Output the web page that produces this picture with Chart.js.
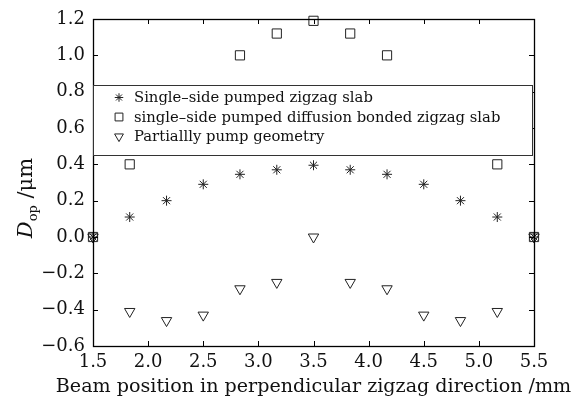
<!DOCTYPE html>
<html>
<head>
<meta charset="utf-8">
<script src="https://cdn.jsdelivr.net/npm/chart.js@4/dist/chart.umd.min.js"></script>
<style>
  html, body { margin: 0; padding: 0; background: #fff; }
  #wrap { width: 580px; height: 397px; }
</style>
</head>
<body>
<div id="wrap"><canvas id="opdChart"></canvas></div>
<script>
const positions = [1.5, 1.833, 2.167, 2.5, 2.833, 3.167, 3.5, 3.833, 4.167, 4.5, 4.833, 5.167, 5.5];
const singleSide = [0, 0.11, 0.20, 0.29, 0.345, 0.37, 0.395, 0.37, 0.345, 0.29, 0.20, 0.11, 0];
// the four middle-side squares sit behind the legend box in the original, so they are left out
const diffusionBonded = [0, 0.40, null, null, 1.0, 1.12, 1.19, 1.12, 1.0, null, null, 0.40, 0];
const partialPump = [0, -0.41, -0.46, -0.43, -0.285, -0.25, 0, -0.25, -0.285, -0.43, -0.46, -0.41, 0];
const seriesNames = [
  "Single\u2013side pumped zigzag slab",
  "single\u2013side pumped diffusion bonded zigzag slab",
  "Partiallly pump geometry"
];
const xTitle = "Beam position in perpendicular zigzag direction /mm";
const xTicks = [1.5, 2.0, 2.5, 3.0, 3.5, 4.0, 4.5, 5.0, 5.5];
const yTicks = [-0.6, -0.4, -0.2, 0.0, 0.2, 0.4, 0.6, 0.8, 1.0, 1.2];

const SERIF = "'DejaVu Serif', 'Liberation Serif', serif";

function toPoints(vals) {
  return positions.map((x, i) => ({ x: x, y: vals[i] })).filter(p => p.y !== null);
}

const markerStyles = [
  { pointStyle: "star", radius: 5, rotation: 0 },
  { pointStyle: "rect", radius: 6.5, rotation: 0 },
  { pointStyle: "triangle", radius: 6, rotation: 180 }
];

// box, inward ticks, legend and axis titles
const decorPlugin = {
  id: "decor",
  afterDatasetsDraw(chart) {
    const ctx = chart.ctx;
    const a = chart.chartArea;
    const xs = chart.scales.x, ys = chart.scales.y;
    ctx.save();
    ctx.strokeStyle = "#000";
    ctx.lineWidth = 1;
    ctx.beginPath();
    xTicks.forEach(v => {
      const px = Math.round(xs.getPixelForValue(v)) + 0.5;
      ctx.moveTo(px, a.bottom); ctx.lineTo(px, a.bottom - 5);
      ctx.moveTo(px, a.top); ctx.lineTo(px, a.top + 5);
    });
    yTicks.forEach(v => {
      const py = Math.round(ys.getPixelForValue(v)) + 0.5;
      ctx.moveTo(a.left, py); ctx.lineTo(a.left + 5, py);
      ctx.moveTo(a.right, py); ctx.lineTo(a.right - 5, py);
    });
    ctx.stroke();
    ctx.lineWidth = 1.3;
    ctx.strokeRect(a.left + 0.5, a.top + 0.5, a.right - a.left, a.bottom - a.top);

    // legend
    const lx = a.left, ly = 85, lw = 439, lh = 70;
    ctx.fillStyle = "#fff";
    ctx.fillRect(lx, ly, lw, lh);
    ctx.strokeStyle = "#333";
    ctx.lineWidth = 1;
    ctx.strokeRect(lx + 0.5, ly + 0.5, lw, lh);
    ctx.font = "14.8px " + SERIF;
    ctx.textBaseline = "middle";
    ctx.textAlign = "left";
    seriesNames.forEach((name, i) => {
      const yy = ly + 12.5 + i * 19.5;
      const m = markerStyles[i];
      ctx.strokeStyle = "#222";
      ctx.fillStyle = "rgba(0,0,0,0)";
      ctx.lineWidth = 1;
      Chart.helpers.drawPoint(ctx, {
        pointStyle: m.pointStyle,
        radius: m.radius * 0.85,
        rotation: m.rotation,
        borderWidth: 1
      }, lx + 26, yy);
      ctx.fillStyle = "#111";
      ctx.fillText(name, lx + 41, yy + 1);
    });

    // x axis title (drawn here so it can be wider than the plot), sized to ~518px
    ctx.font = "20px " + SERIF;
    const fs = 20 * 516 / ctx.measureText(xTitle).width;
    ctx.font = fs.toFixed(2) + "px " + SERIF;
    ctx.textAlign = "center";
    ctx.textBaseline = "alphabetic";
    ctx.fillStyle = "#111";
    ctx.fillText(xTitle, (a.left + a.right) / 2, 392);

    // y axis title: D_op /μm
    ctx.translate(25, 198);
    ctx.rotate(-Math.PI / 2);
    ctx.textAlign = "left";
    const parts = [
      { t: "D", f: "italic 21px " + SERIF, dy: 0 },
      { t: "op", f: "13px " + SERIF, dy: 5 },
      { t: " /\u03bcm", f: "21px " + SERIF, dy: 0 }
    ];
    let total = 0;
    parts.forEach(p => { ctx.font = p.f; p.w = ctx.measureText(p.t).width; total += p.w; });
    let cx = -total / 2;
    parts.forEach(p => {
      ctx.font = p.f;
      ctx.fillText(p.t, cx, 7 + p.dy);
      cx += p.w;
    });
    ctx.restore();
  }
};

const ctx = document.getElementById("opdChart").getContext("2d");

new Chart(ctx, {
  type: "scatter",
  data: {
    datasets: [singleSide, diffusionBonded, partialPump].map((vals, i) => ({
      label: seriesNames[i],
      data: toPoints(vals),
      pointStyle: markerStyles[i].pointStyle,
      pointRadius: markerStyles[i].radius,
      rotation: markerStyles[i].rotation,
      borderColor: "#222",
      backgroundColor: "rgba(0,0,0,0)",
      pointBorderWidth: 1,
      showLine: false,
      clip: false
    }))
  },
  options: {
    responsive: true,
    maintainAspectRatio: false,
    animation: false,
    layout: { padding: { top: 19, right: 46, left: 0, bottom: 0 } },
    plugins: {
      legend: { display: false },
      tooltip: { enabled: false }
    },
    scales: {
      x: {
        type: "linear",
        min: 1.5,
        max: 5.5,
        afterBuildTicks: (s) => { s.ticks = xTicks.map(v => ({ value: v })); },
        afterFit: (s) => { s.height = 51; },
        grid: { display: false, drawTicks: false },
        border: { display: false },
        ticks: {
          color: "#111",
          font: { family: SERIF, size: 18 },
          padding: 6,
          maxRotation: 0,
          callback: (v) => v.toFixed(1)
        }
      },
      y: {
        type: "linear",
        min: -0.6,
        max: 1.2,
        afterBuildTicks: (s) => { s.ticks = yTicks.map(v => ({ value: v })); },
        afterFit: (s) => { s.width = 93; },
        grid: { display: false, drawTicks: false },
        border: { display: false },
        ticks: {
          color: "#111",
          font: { family: SERIF, size: 18 },
          padding: 8,
          callback: (v) => (v < 0 ? "\u2212" + Math.abs(v).toFixed(1) : v.toFixed(1))
        }
      }
    }
  },
  plugins: [decorPlugin]
});
</script>
</body>
</html>
